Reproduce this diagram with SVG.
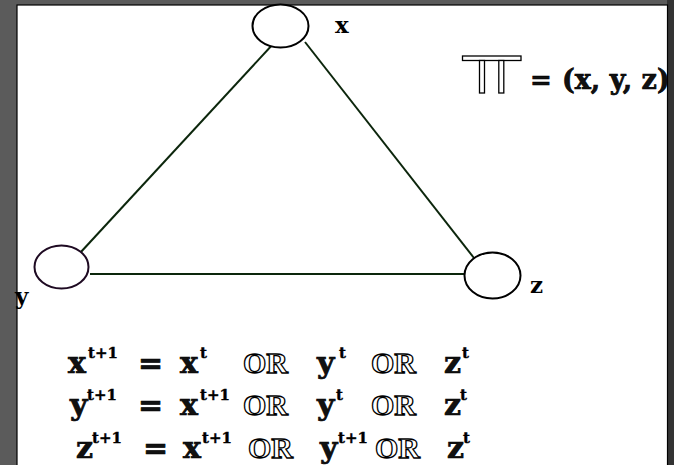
<svg xmlns="http://www.w3.org/2000/svg" width="674" height="465" viewBox="0 0 674 465">
<style>
.node{fill:#fff;stroke:#000;stroke-width:2}
.edge{stroke:#0c260c;stroke-width:2;fill:none}
.lbl{font-family:"DejaVu Serif","Liberation Serif",serif;font-weight:bold;font-size:23px;fill:#000}
.m{font-family:"DejaVu Serif","Liberation Serif",serif;font-weight:bold;font-size:30px;fill:#111;stroke:#000;stroke-width:0.7}
.or{font-family:"Liberation Serif","DejaVu Serif",serif;font-weight:bold;font-size:30px;fill:#fff;stroke:#000;stroke-width:1.3}
.sup{font-family:"DejaVu Serif","Liberation Serif",serif;font-weight:bold;font-size:15px;fill:#000;stroke:#000;stroke-width:0.4}
.pi{fill:#fff;stroke:#000;stroke-width:1.3}
</style>
<rect x="0" y="0" width="674" height="465" fill="#5b5b5b"/>
<rect x="667" y="0" width="7" height="465" fill="#333"/>
<rect x="17" y="5" width="650.5" height="462" fill="#fff" stroke="#000" stroke-width="1.2"/>
<g id="connectors">
<line class="edge" x1="274" y1="43" x2="80" y2="253"/>
<line class="edge" x1="305" y1="42" x2="474" y2="258"/>
<line class="edge" x1="90" y1="274" x2="464" y2="274"/>
</g>
<g id="node-x"><ellipse class="node" cx="280.5" cy="26" rx="28" ry="21.5"/><text class="lbl" x="335" y="33">x</text></g>
<g id="node-y"><ellipse class="node" cx="61.5" cy="267" rx="27" ry="21.5" style="stroke:#1e0a22"/><text class="lbl" x="15" y="304">y</text></g>
<g id="node-z"><ellipse class="node" cx="492.5" cy="275.5" rx="28" ry="23"/><text class="lbl" x="530" y="293">z</text></g>
<g id="state">
<rect class="pi" x="462.5" y="56" width="58.5" height="4.5"/>
<rect class="pi" x="479.5" y="60.5" width="5" height="32.5"/>
<rect class="pi" x="498.8" y="60.5" width="5" height="32.5"/>
<text class="m" x="530" y="89" style="font-size:26px">=</text>
<text class="m" x="562" y="89" style="font-size:27px">(x, y, z)</text>
</g>
<g id="equations">
<text class="m" x="68" y="373">x</text><text class="sup" x="88" y="358">t+1</text>
<text class="m" x="138" y="373">=</text>
<text class="m" x="180" y="373">x</text><text class="sup" x="200" y="358">t</text>
<text class="or" x="243" y="373">OR</text>
<text class="m" x="317" y="373">y</text><text class="sup" x="339" y="358">t</text>
<text class="or" x="371" y="373">OR</text>
<text class="m" x="444" y="373">z</text><text class="sup" x="462" y="358">t</text>

<text class="m" x="70" y="415">y</text><text class="sup" x="87" y="400">t+1</text>
<text class="m" x="138" y="415">=</text>
<text class="m" x="180" y="415">x</text><text class="sup" x="200" y="400">t+1</text>
<text class="or" x="243" y="415">OR</text>
<text class="m" x="317" y="415">y</text><text class="sup" x="336" y="400">t</text>
<text class="or" x="371" y="415">OR</text>
<text class="m" x="444" y="415">z</text><text class="sup" x="460" y="400">t</text>

<text class="m" x="76" y="458">z</text><text class="sup" x="92" y="443">t+1</text>
<text class="m" x="143" y="458">=</text>
<text class="m" x="183" y="458">x</text><text class="sup" x="202" y="443">t+1</text>
<text class="or" x="248" y="458">OR</text>
<text class="m" x="320" y="458">y</text><text class="sup" x="338" y="443">t+1</text>
<text class="or" x="375" y="458">OR</text>
<text class="m" x="447" y="458">z</text><text class="sup" x="463" y="443">t</text>
</g>
</svg>
